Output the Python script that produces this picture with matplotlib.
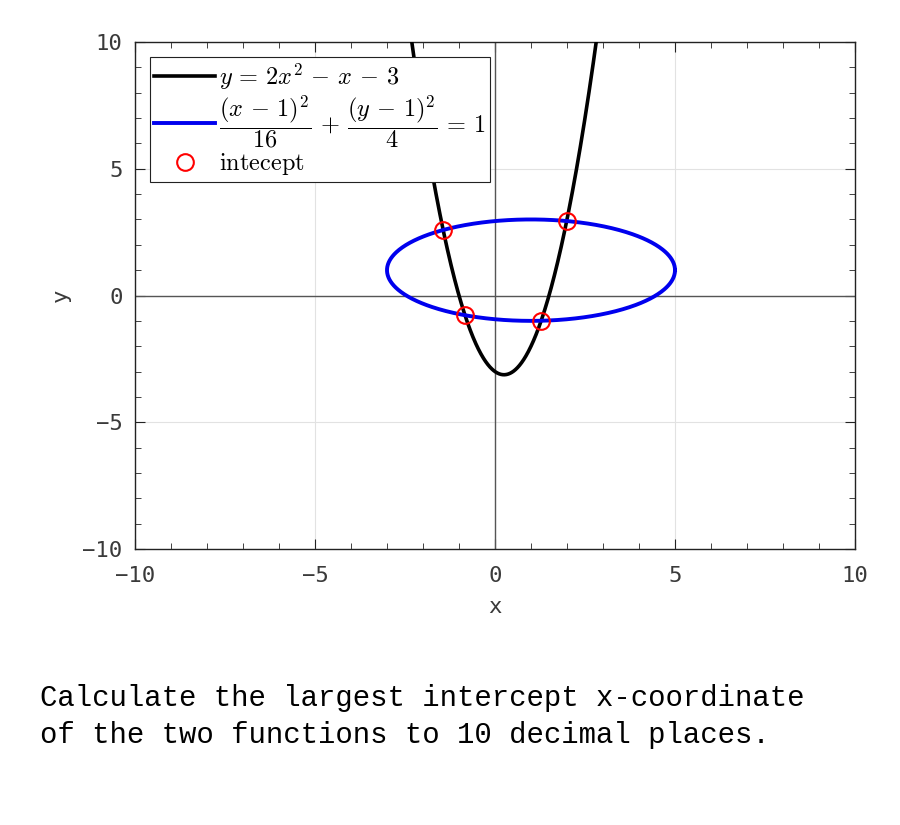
import matplotlib.pyplot as plt
import numpy as np
from matplotlib.ticker import MultipleLocator

plt.rcParams["mathtext.fontset"] = "cm"

# parabola y = a x^2 + b x + c
parab_coef = [2, -1, -3]
# ellipse (x-h)^2/rx^2 + (y-k)^2/ry^2 = 1
ell_center = [1, 1]
ell_radii = [4, 2]

# intercepts
int_x = [-1.440, -0.833, 1.282, 1.991]
int_y = [2.585, -0.778, -0.994, 2.938]

xticks = [-10, -5, 0, 5, 10]
yticks = [-10, -5, 0, 5, 10]

xs = np.linspace(-10, 10, 2001)
ys = np.polyval(parab_coef, xs)
t = np.linspace(0, 2 * np.pi, 600)
ex = ell_center[0] + ell_radii[0] * np.cos(t)
ey = ell_center[1] + ell_radii[1] * np.sin(t)

fig = plt.figure(figsize=(9, 8.25), dpi=100)
ax = fig.add_axes([0.15, 0.3345, 0.80, 0.6146])

ax.axhline(0, color="#555555", lw=1.0, zorder=1)
ax.axvline(0, color="#555555", lw=1.0, zorder=1)
ax.plot(xs, ys, color="black", lw=2.6,
        label=r"$y\,=\,2x^2\,-\,x\,-\,3$", zorder=3)
ax.plot(ex, ey, color="#0000ee", lw=2.8,
        label=r"$\dfrac{(x\,-\,1)^2}{16}\,+\,\dfrac{(y\,-\,1)^2}{4}\,=\,1$", zorder=3)
ax.plot(int_x, int_y, "o", mfc="none", mec="red", ms=12, mew=1.5,
        label=r"$\mathrm{intecept}$", zorder=4)

ax.set_xlim(-10, 10)
ax.set_ylim(-10, 10)
ax.set_xticks(xticks)
ax.set_yticks(yticks)
ax.xaxis.set_minor_locator(MultipleLocator(1))
ax.yaxis.set_minor_locator(MultipleLocator(1))
ax.grid(True, which="major", color="#e2e2e2", lw=0.8)
ax.set_axisbelow(True)
ax.tick_params(which="both", direction="in", top=True, right=True,
               labelsize=16, labelcolor="#3a3a3a", color="#222222")
ax.tick_params(which="major", length=7)
ax.tick_params(which="minor", length=4)
ax.tick_params(axis="x", pad=12)
ax.tick_params(axis="y", pad=9)
for lab in ax.get_xticklabels() + ax.get_yticklabels():
    lab.set_family("DejaVu Sans Mono")
for s in ax.spines.values():
    s.set_color("#222222")
    s.set_linewidth(1.0)

ax.set_xlabel("x", family="DejaVu Sans Mono", fontsize=16, color="#3a3a3a", labelpad=8)
ax.set_ylabel("y", family="DejaVu Sans Mono", fontsize=16, color="#3a3a3a", labelpad=8)

leg = ax.legend(loc="upper left", fontsize=17.5, fancybox=False, framealpha=1,
                edgecolor="#222222", handlelength=2.5, handletextpad=0.15,
                borderaxespad=0.6, labelspacing=0.05, borderpad=0.2)
leg.get_frame().set_linewidth(0.8)

fig.text(40 / 900, 1 - 684 / 825,
         "Calculate the largest intercept x-coordinate\nof the two functions to 10 decimal places.",
         family="Liberation Mono", fontsize=20.9, va="top", ha="left",
         linespacing=1.4)

plt.savefig("out.png", dpi=100)
